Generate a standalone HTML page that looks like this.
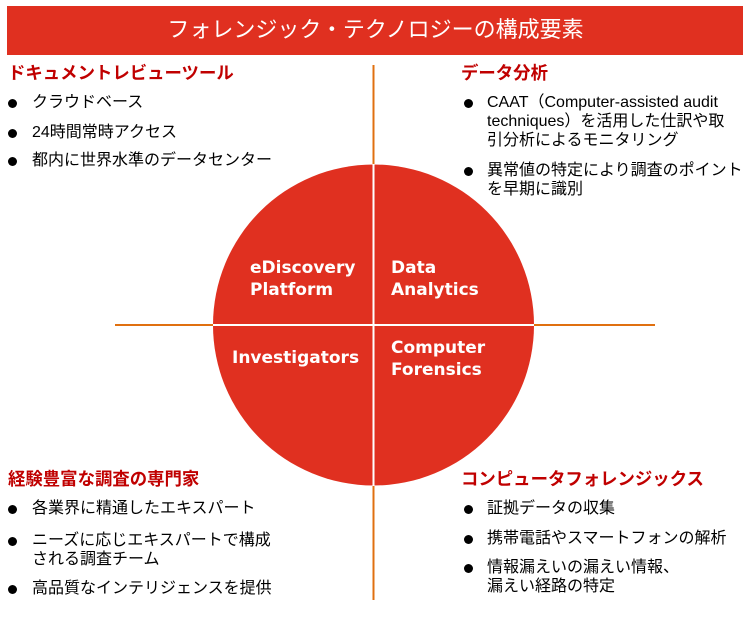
<!DOCTYPE html>
<html><head><meta charset="utf-8"><style>
body{margin:0;width:751px;height:618px;background:#fff;position:relative;overflow:hidden;font-family:"Liberation Sans","Noto Sans CJK JP",sans-serif;}
.t{position:absolute;white-space:nowrap;line-height:19px;}
.h{color:#c00000;font-weight:bold;font-size:17.4px;}
.b{font-size:16px;color:#000;}
.d{position:absolute;width:9px;height:9px;border-radius:50%;background:#000;}
.w{position:absolute;color:#fff;font-weight:bold;font-size:17px;line-height:22px;font-family:"DejaVu Sans",sans-serif;}
</style></head><body>
<div style="position:absolute;left:7px;top:6px;width:736px;height:49px;background:#e03020;"></div>
<div class="t" style="left:0;width:751px;text-align:center;top:17px;color:#fff;font-size:22px;line-height:26px;">フォレンジック・テクノロジーの構成要素</div>
<svg style="position:absolute;left:0;top:0" width="751" height="618">
<line x1="373.5" y1="65" x2="373.5" y2="600" stroke="#e07010" stroke-width="2"/>
<line x1="115" y1="325" x2="655" y2="325" stroke="#e07010" stroke-width="2"/>
<circle cx="373.5" cy="325" r="160.5" fill="#e03020"/>
<line x1="373.5" y1="164" x2="373.5" y2="486" stroke="#fff" stroke-width="2"/>
<line x1="213" y1="325" x2="534" y2="325" stroke="#fff" stroke-width="2"/>
</svg>
<div class="w" style="left:250px;top:257px">eDiscovery<br>Platform</div>
<div class="w" style="left:391px;top:257px">Data<br>Analytics</div>
<div class="w" style="left:232px;top:347px">Investigators</div>
<div class="w" style="left:391px;top:337px">Computer<br>Forensics</div>

<div class="t h" style="left:8px;top:64px">ドキュメントレビューツール</div>
<div class="d" style="left:8px;top:99px"></div><div class="t b" style="left:32px;top:93px">クラウドベース</div>
<div class="d" style="left:8px;top:129px"></div><div class="t b" style="left:32px;top:123px">24時間常時アクセス</div>
<div class="d" style="left:8px;top:157px"></div><div class="t b" style="left:32px;top:151px">都内に世界水準のデータセンター</div>

<div class="t h" style="left:461px;top:64px">データ分析</div>
<div class="d" style="left:464px;top:99px"></div><div class="t b" style="left:487px;top:93px">CAAT（Computer-assisted audit<br>techniques）を活用した仕訳や取<br>引分析によるモニタリング</div>
<div class="d" style="left:464px;top:167px"></div><div class="t b" style="left:487px;top:161px">異常値の特定により調査のポイント<br>を早期に識別</div>

<div class="t h" style="left:8px;top:470px">経験豊富な調査の専門家</div>
<div class="d" style="left:8px;top:505px"></div><div class="t b" style="left:32px;top:499px">各業界に精通したエキスパート</div>
<div class="d" style="left:8px;top:537px"></div><div class="t b" style="left:32px;top:531px">ニーズに応じエキスパートで構成<br>される調査チーム</div>
<div class="d" style="left:8px;top:585px"></div><div class="t b" style="left:32px;top:579px">高品質なインテリジェンスを提供</div>

<div class="t h" style="left:461px;top:470px">コンピュータフォレンジックス</div>
<div class="d" style="left:464px;top:505px"></div><div class="t b" style="left:487px;top:499px">証拠データの収集</div>
<div class="d" style="left:464px;top:535px"></div><div class="t b" style="left:487px;top:529px">携帯電話やスマートフォンの解析</div>
<div class="d" style="left:464px;top:564px"></div><div class="t b" style="left:487px;top:558px">情報漏えいの漏えい情報、<br>漏えい経路の特定</div>
</body></html>
